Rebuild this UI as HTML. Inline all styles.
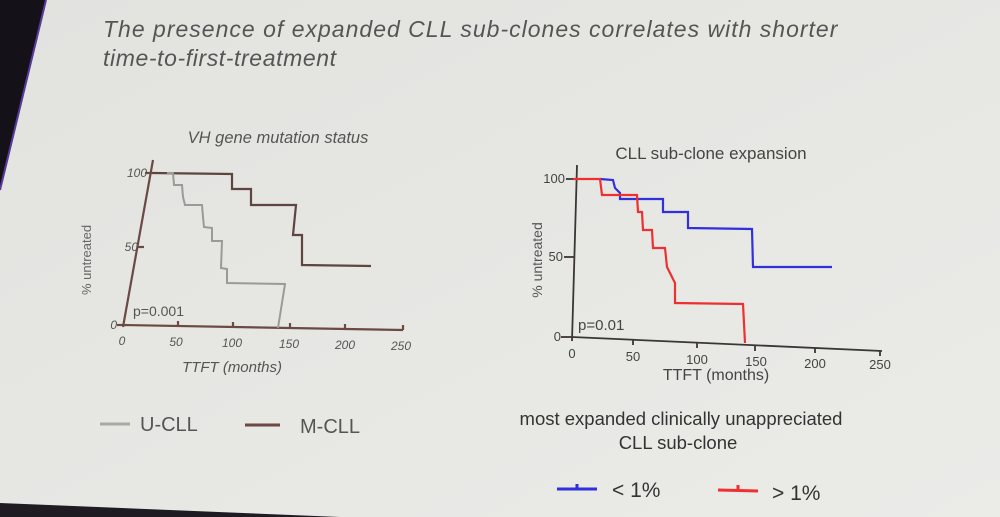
<!DOCTYPE html>
<html><head><style>
body{margin:0;width:1000px;height:517px;overflow:hidden;background:#e4e4e1;font-family:"Liberation Sans",sans-serif}
svg{display:block}
</style></head><body>
<svg width="1000" height="517" viewBox="0 0 1000 517" xmlns="http://www.w3.org/2000/svg">
<defs><linearGradient id="bg" x1="0" y1="0" x2="1" y2="1"><stop offset="0" stop-color="#e2e2df"/><stop offset="1" stop-color="#ebebe8"/></linearGradient></defs>
<rect width="1000" height="517" fill="url(#bg)"/>
<polygon points="0,0 46,0 0,190" fill="#141218"/>
<line x1="46" y1="0" x2="0" y2="190" stroke="#5a3a9a" stroke-width="2"/>
<polygon points="0,503 340,517 0,517" fill="#1e1c22"/>
<g fill="#555" font-style="italic" font-size="23" letter-spacing="0.6">
<text x="103" y="37" textLength="735">The presence of expanded CLL sub-clones correlates with shorter</text>
<text x="103" y="66">time-to-first-treatment</text>
</g>
<text x="278" y="143" text-anchor="middle" font-size="16.5" font-style="italic" fill="#555">VH gene mutation status</text>
<text x="711" y="159" text-anchor="middle" font-size="17" fill="#444">CLL sub-clone expansion</text>
<!-- left chart -->
<g stroke="#6a4a42" stroke-width="2.2" fill="none">
<line x1="153" y1="160" x2="123" y2="327"/>
<line x1="123" y1="325" x2="403" y2="330"/>
<line x1="145" y1="173" x2="152" y2="173"/><line x1="137" y1="247" x2="144" y2="247"/><line x1="117" y1="325" x2="123" y2="325"/>
<line x1="178" y1="326" x2="178" y2="321"/><line x1="233" y1="327" x2="233" y2="322"/><line x1="290" y1="328" x2="290" y2="323"/><line x1="345" y1="329" x2="345" y2="324"/><line x1="403" y1="330" x2="403" y2="325"/>
</g>
<g font-size="12" fill="#555" font-style="italic">
<text x="147" y="177" text-anchor="end">100</text><text x="138" y="251" text-anchor="end">50</text><text x="117" y="329" text-anchor="end">0</text>
<text x="122" y="345" text-anchor="middle">0</text><text x="176" y="346" text-anchor="middle">50</text><text x="232" y="347" text-anchor="middle">100</text><text x="289" y="348" text-anchor="middle">150</text><text x="345" y="349" text-anchor="middle">200</text><text x="401" y="350" text-anchor="middle">250</text>
</g>
<text x="232" y="372" text-anchor="middle" font-size="15" font-style="italic" fill="#555">TTFT (months)</text>
<text transform="translate(91,260) rotate(-90)" text-anchor="middle" font-size="13" fill="#666">% untreated</text>
<text x="133" y="316" font-size="14" fill="#555">p=0.001</text>
<polyline points="152,173 232,174 232,189 251,189 251,205 296,205 293,235 302,235 302,265 371,266" fill="none" stroke="#5e463e" stroke-width="2.2"/>
<polyline points="167,173 173,173 174,185 182,185 183,197 185,205 202,205 203,217 204,227 212,228 212,241 222,241 221,268 227,269 227,283 285,284 278,328" fill="none" stroke="#9a9a97" stroke-width="2"/>
<!-- right chart -->
<g stroke="#3a3636" stroke-width="1.8" fill="none">
<line x1="577" y1="165" x2="572" y2="341"/>
<line x1="572" y1="337" x2="882" y2="351"/>
<line x1="566" y1="179" x2="576" y2="179"/><line x1="564" y1="257" x2="574" y2="257"/><line x1="561" y1="337" x2="572" y2="337"/>
<line x1="633" y1="340" x2="633" y2="345"/><line x1="697" y1="343" x2="697" y2="348"/><line x1="755" y1="346" x2="755" y2="351"/><line x1="815" y1="348" x2="815" y2="353"/><line x1="880" y1="351" x2="880" y2="356"/>
</g>
<g font-size="13" fill="#444">
<text x="565" y="183" text-anchor="end">100</text><text x="563" y="261" text-anchor="end">50</text><text x="561" y="341" text-anchor="end">0</text>
<text x="572" y="358" text-anchor="middle">0</text><text x="633" y="361" text-anchor="middle">50</text><text x="697" y="364" text-anchor="middle">100</text><text x="756" y="366" text-anchor="middle">150</text><text x="815" y="368" text-anchor="middle">200</text><text x="880" y="369" text-anchor="middle">250</text>
</g>
<text x="716" y="380" text-anchor="middle" font-size="16" fill="#444">TTFT (months)</text>
<text transform="translate(542,260) rotate(-90)" text-anchor="middle" font-size="14" fill="#555">% untreated</text>
<text x="578" y="330" font-size="15" fill="#444">p=0.01</text>
<polyline points="600,179 613,180 615,188 620,193 620,199 663,199 663,212 688,212 688,228 752,229 753,267 832,267" fill="none" stroke="#3030dd" stroke-width="2.2"/>
<polyline points="573,179 600,179 602,195 637,195 638,212 642,212 643,230 652,230 653,248 665,248 667,267 675,283 675,303 743,304 745,343" fill="none" stroke="#ee3030" stroke-width="2.2"/>
<!-- legends -->
<line x1="100" y1="424" x2="130" y2="424" stroke="#a8a8a5" stroke-width="3"/>
<text x="140" y="431" font-size="20" fill="#555">U-CLL</text>
<line x1="245" y1="425" x2="280" y2="425" stroke="#6a4a42" stroke-width="3"/>
<text x="300" y="433" font-size="20" fill="#555">M-CLL</text>
<text x="681" y="425" text-anchor="middle" font-size="18.5" fill="#333">most expanded clinically unappreciated</text>
<text x="678" y="449" text-anchor="middle" font-size="18.5" fill="#333">CLL sub-clone</text>
<line x1="557" y1="489" x2="597" y2="489" stroke="#3030dd" stroke-width="3"/><line x1="577" y1="484" x2="577" y2="489" stroke="#3030dd" stroke-width="3"/>
<text x="612" y="497" font-size="21" fill="#333">&lt; 1%</text>
<line x1="718" y1="490" x2="758" y2="491" stroke="#ee3030" stroke-width="3"/><line x1="738" y1="485" x2="738" y2="491" stroke="#ee3030" stroke-width="3"/>
<text x="772" y="500" font-size="21" fill="#333">&gt; 1%</text>
</svg>
</body></html>
